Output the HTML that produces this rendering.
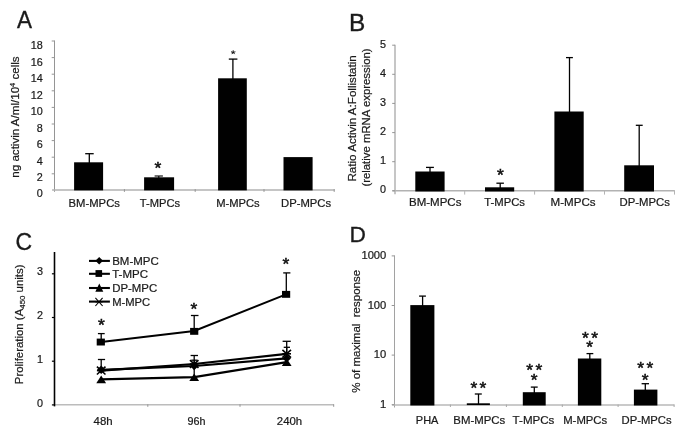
<!DOCTYPE html>
<html>
<head>
<meta charset="utf-8">
<title>Figure</title>
<style>
html,body{margin:0;padding:0;background:#fff;}
body{width:685px;height:434px;overflow:hidden;font-family:"Liberation Sans",sans-serif;}
svg{display:block;}
svg text{font-family:"Liberation Sans",sans-serif;fill:#1a1a1a;white-space:pre;}
</style>
</head>
<body>
<svg width="685" height="434" viewBox="0 0 685 434">
<rect x="0" y="0" width="685" height="434" fill="#ffffff"/>
<g opacity="0.999">
<text transform="translate(16.9,27.7) scale(0.95,1.0)" x="0" y="0" font-size="23.7" stroke="#1a1a1a" stroke-width="0.35">A</text>
<text transform="translate(349.1,30.5) scale(1.03,1.0)" x="0" y="0" font-size="23.7" stroke="#1a1a1a" stroke-width="0.35">B</text>
<text transform="translate(15.4,249.7) scale(0.97,1.0)" x="0" y="0" font-size="23.7" stroke="#1a1a1a" stroke-width="0.35">C</text>
<text transform="translate(349.4,242.2) scale(0.96,0.97)" x="0" y="0" font-size="23.7" stroke="#1a1a1a" stroke-width="0.35">D</text>
<line x1="54.5" y1="40.5" x2="54.5" y2="191.8" stroke="#959595" stroke-width="1"/>
<line x1="52.1" y1="190.0" x2="334.6" y2="190.0" stroke="#b2b2b2" stroke-width="1.4"/>
<line x1="51.7" y1="173.8" x2="54.5" y2="173.8" stroke="#959595" stroke-width="1"/>
<text x="42.7" y="180.9" font-size="10.8" text-anchor="end" stroke="#1a1a1a" stroke-width="0.22">2</text>
<line x1="51.7" y1="157.2" x2="54.5" y2="157.2" stroke="#959595" stroke-width="1"/>
<text x="42.7" y="164.5" font-size="10.8" text-anchor="end" stroke="#1a1a1a" stroke-width="0.22">4</text>
<line x1="51.7" y1="140.6" x2="54.5" y2="140.6" stroke="#959595" stroke-width="1"/>
<text x="42.7" y="148.1" font-size="10.8" text-anchor="end" stroke="#1a1a1a" stroke-width="0.22">6</text>
<line x1="51.7" y1="124.0" x2="54.5" y2="124.0" stroke="#959595" stroke-width="1"/>
<text x="42.7" y="131.7" font-size="10.8" text-anchor="end" stroke="#1a1a1a" stroke-width="0.22">8</text>
<line x1="51.7" y1="107.4" x2="54.5" y2="107.4" stroke="#959595" stroke-width="1"/>
<text x="42.7" y="115.2" font-size="10.8" text-anchor="end" stroke="#1a1a1a" stroke-width="0.22">10</text>
<line x1="51.7" y1="90.8" x2="54.5" y2="90.8" stroke="#959595" stroke-width="1"/>
<text x="42.7" y="98.7" font-size="10.8" text-anchor="end" stroke="#1a1a1a" stroke-width="0.22">12</text>
<line x1="51.7" y1="74.2" x2="54.5" y2="74.2" stroke="#959595" stroke-width="1"/>
<text x="42.7" y="82.1" font-size="10.8" text-anchor="end" stroke="#1a1a1a" stroke-width="0.22">14</text>
<line x1="51.7" y1="57.6" x2="54.5" y2="57.6" stroke="#959595" stroke-width="1"/>
<text x="42.7" y="65.6" font-size="10.8" text-anchor="end" stroke="#1a1a1a" stroke-width="0.22">16</text>
<line x1="51.7" y1="41.0" x2="54.5" y2="41.0" stroke="#959595" stroke-width="1"/>
<text x="42.7" y="49.1" font-size="10.8" text-anchor="end" stroke="#1a1a1a" stroke-width="0.22">18</text>
<line x1="124.4" y1="189.1" x2="124.4" y2="191.9" stroke="#959595" stroke-width="1"/>
<line x1="195.2" y1="189.1" x2="195.2" y2="191.9" stroke="#959595" stroke-width="1"/>
<line x1="264.0" y1="189.1" x2="264.0" y2="191.9" stroke="#959595" stroke-width="1"/>
<line x1="334.2" y1="189.1" x2="334.2" y2="191.9" stroke="#959595" stroke-width="1"/>
<rect x="74.1" y="162.3" width="29.0" height="28.1" fill="#000"/>
<rect x="144.1" y="177.3" width="30.0" height="13.1" fill="#000"/>
<rect x="218.1" y="78.3" width="28.7" height="112.1" fill="#000"/>
<rect x="283.5" y="157.1" width="29.1" height="33.3" fill="#000"/>
<line x1="89.3" y1="153.7" x2="89.3" y2="163.0" stroke="#000" stroke-width="1.3"/>
<line x1="85.2" y1="153.7" x2="93.7" y2="153.7" stroke="#000" stroke-width="1.3"/>
<line x1="158.8" y1="176.0" x2="158.8" y2="178.0" stroke="#000" stroke-width="1.1"/>
<line x1="154.6" y1="176.0" x2="162.9" y2="176.0" stroke="#000" stroke-width="1.1"/>
<line x1="232.9" y1="59.1" x2="232.9" y2="79.0" stroke="#000" stroke-width="1.3"/>
<line x1="228.8" y1="59.1" x2="237.4" y2="59.1" stroke="#000" stroke-width="1.3"/>
<text transform="translate(157.89,164.80) scale(1,0.96)" x="0" y="9.10" font-size="17.5" text-anchor="middle" stroke="#000" stroke-width="0.5">*</text>
<line x1="233.2" y1="52.4" x2="233.2" y2="50.3" stroke="#000" stroke-width="0.95"/>
<line x1="233.2" y1="52.4" x2="235.4" y2="51.8" stroke="#000" stroke-width="0.95"/>
<line x1="233.2" y1="52.4" x2="234.6" y2="54.1" stroke="#000" stroke-width="0.95"/>
<line x1="233.2" y1="52.4" x2="231.8" y2="54.1" stroke="#000" stroke-width="0.95"/>
<line x1="233.2" y1="52.4" x2="231.0" y2="51.8" stroke="#000" stroke-width="0.95"/>
<text x="42.7" y="197.3" font-size="10.8" text-anchor="end" stroke="#1a1a1a" stroke-width="0.22">0</text>
<text x="68.6" y="207.0" font-size="10.8" text-anchor="start" textLength="51.3" lengthAdjust="spacingAndGlyphs" stroke="#1a1a1a" stroke-width="0.22">BM-MPCs</text>
<text x="139.8" y="207.0" font-size="10.8" text-anchor="start" textLength="40.2" lengthAdjust="spacingAndGlyphs" stroke="#1a1a1a" stroke-width="0.22">T-MPCs</text>
<text x="216.2" y="207.0" font-size="10.8" text-anchor="start" textLength="43.5" lengthAdjust="spacingAndGlyphs" stroke="#1a1a1a" stroke-width="0.22">M-MPCs</text>
<text x="281.1" y="207.0" font-size="10.8" text-anchor="start" textLength="50.0" lengthAdjust="spacingAndGlyphs" stroke="#1a1a1a" stroke-width="0.22">DP-MPCs</text>
<text transform="translate(19.1,177.7) rotate(-90)" font-size="11.3" textLength="121.3" lengthAdjust="spacingAndGlyphs" stroke="#1a1a1a" stroke-width="0.22">ng activin A/ml/10<tspan font-size="7.2" dy="-4.0">4</tspan><tspan dy="4.0"> cells</tspan></text>
<line x1="395.0" y1="44.7" x2="395.0" y2="194.3" stroke="#a8a8a8" stroke-width="1.3"/>
<line x1="392.4" y1="190.8" x2="674.8" y2="190.8" stroke="#b2b2b2" stroke-width="1.4"/>
<line x1="392.2" y1="190.8" x2="395.0" y2="190.8" stroke="#959595" stroke-width="1"/>
<text x="385.9" y="193.1" font-size="10.8" text-anchor="end" stroke="#1a1a1a" stroke-width="0.22">0</text>
<line x1="392.2" y1="161.7" x2="395.0" y2="161.7" stroke="#959595" stroke-width="1"/>
<text x="385.9" y="164.0" font-size="10.8" text-anchor="end" stroke="#1a1a1a" stroke-width="0.22">1</text>
<line x1="392.2" y1="132.6" x2="395.0" y2="132.6" stroke="#959595" stroke-width="1"/>
<text x="385.9" y="134.9" font-size="10.8" text-anchor="end" stroke="#1a1a1a" stroke-width="0.22">2</text>
<line x1="392.2" y1="103.4" x2="395.0" y2="103.4" stroke="#959595" stroke-width="1"/>
<text x="385.9" y="105.7" font-size="10.8" text-anchor="end" stroke="#1a1a1a" stroke-width="0.22">3</text>
<line x1="392.2" y1="74.3" x2="395.0" y2="74.3" stroke="#959595" stroke-width="1"/>
<text x="385.9" y="76.6" font-size="10.8" text-anchor="end" stroke="#1a1a1a" stroke-width="0.22">4</text>
<line x1="392.2" y1="45.2" x2="395.0" y2="45.2" stroke="#959595" stroke-width="1"/>
<text x="385.9" y="47.5" font-size="10.8" text-anchor="end" stroke="#1a1a1a" stroke-width="0.22">5</text>
<line x1="464.7" y1="190.5" x2="464.7" y2="194.6" stroke="#b4b4b4" stroke-width="1"/>
<line x1="534.6" y1="190.5" x2="534.6" y2="194.6" stroke="#b4b4b4" stroke-width="1"/>
<line x1="604.5" y1="190.5" x2="604.5" y2="194.6" stroke="#b4b4b4" stroke-width="1"/>
<line x1="674.5" y1="190.5" x2="674.5" y2="194.6" stroke="#b4b4b4" stroke-width="1"/>
<rect x="415.3" y="171.5" width="29.3" height="20.0" fill="#000"/>
<rect x="485.0" y="187.3" width="29.2" height="4.2" fill="#000"/>
<rect x="554.4" y="111.5" width="29.3" height="80.0" fill="#000"/>
<rect x="624.2" y="165.3" width="29.8" height="26.2" fill="#000"/>
<line x1="430.0" y1="167.4" x2="430.0" y2="172.0" stroke="#000" stroke-width="1.3"/>
<line x1="426.0" y1="167.4" x2="433.9" y2="167.4" stroke="#000" stroke-width="1.3"/>
<line x1="500.2" y1="183.2" x2="500.2" y2="188.0" stroke="#000" stroke-width="1.3"/>
<line x1="496.4" y1="183.2" x2="503.9" y2="183.2" stroke="#000" stroke-width="1.3"/>
<line x1="569.5" y1="57.6" x2="569.5" y2="112.0" stroke="#000" stroke-width="1.3"/>
<line x1="566.0" y1="57.6" x2="572.9" y2="57.6" stroke="#000" stroke-width="1.3"/>
<line x1="639.2" y1="125.3" x2="639.2" y2="166.0" stroke="#000" stroke-width="1.3"/>
<line x1="635.8" y1="125.3" x2="642.7" y2="125.3" stroke="#000" stroke-width="1.3"/>
<text transform="translate(500.29,172.80) scale(1,0.9)" x="0" y="9.10" font-size="17.5" text-anchor="middle" stroke="#000" stroke-width="0.5">*</text>
<text x="409.0" y="206.3" font-size="10.8" text-anchor="start" textLength="52.4" lengthAdjust="spacingAndGlyphs" stroke="#1a1a1a" stroke-width="0.22">BM-MPCs</text>
<text x="484.2" y="206.3" font-size="10.8" text-anchor="start" textLength="40.8" lengthAdjust="spacingAndGlyphs" stroke="#1a1a1a" stroke-width="0.22">T-MPCs</text>
<text x="550.6" y="206.3" font-size="10.8" text-anchor="start" textLength="45.0" lengthAdjust="spacingAndGlyphs" stroke="#1a1a1a" stroke-width="0.22">M-MPCs</text>
<text x="619.5" y="206.3" font-size="10.8" text-anchor="start" textLength="50.4" lengthAdjust="spacingAndGlyphs" stroke="#1a1a1a" stroke-width="0.22">DP-MPCs</text>
<text transform="translate(355.9,181.5) rotate(-90)" font-size="11.2" textLength="126.3" lengthAdjust="spacingAndGlyphs" stroke="#1a1a1a" stroke-width="0.22">Ratio Activin A:Follistatin</text>
<text transform="translate(369.6,186.6) rotate(-90)" font-size="11.2" textLength="138.2" lengthAdjust="spacingAndGlyphs" stroke="#1a1a1a" stroke-width="0.22">(relative mRNA expression)</text>
<line x1="54.5" y1="404.7" x2="333.9" y2="404.7" stroke="#bcbcbc" stroke-width="1.4"/>
<line x1="54.5" y1="252.0" x2="54.5" y2="406.4" stroke="#000" stroke-width="1.6"/>
<line x1="51.9" y1="404.9" x2="54.5" y2="404.9" stroke="#000" stroke-width="1.2"/>
<text x="43.0" y="406.6" font-size="10.8" text-anchor="end" stroke="#1a1a1a" stroke-width="0.22">0</text>
<line x1="51.9" y1="361.2" x2="54.5" y2="361.2" stroke="#000" stroke-width="1.2"/>
<text x="43.0" y="362.9" font-size="10.8" text-anchor="end" stroke="#1a1a1a" stroke-width="0.22">1</text>
<line x1="51.9" y1="317.5" x2="54.5" y2="317.5" stroke="#000" stroke-width="1.2"/>
<text x="43.0" y="318.7" font-size="10.8" text-anchor="end" stroke="#1a1a1a" stroke-width="0.22">2</text>
<line x1="51.9" y1="273.8" x2="54.5" y2="273.8" stroke="#000" stroke-width="1.2"/>
<text x="43.0" y="275.0" font-size="10.8" text-anchor="end" stroke="#1a1a1a" stroke-width="0.22">3</text>
<line x1="147.8" y1="404.3" x2="147.8" y2="406.8" stroke="#959595" stroke-width="1"/>
<line x1="240.0" y1="404.3" x2="240.0" y2="406.8" stroke="#959595" stroke-width="1"/>
<line x1="333.7" y1="404.3" x2="333.7" y2="406.8" stroke="#959595" stroke-width="1"/>
<text x="93.6" y="424.8" font-size="10.8" text-anchor="start" textLength="19.1" lengthAdjust="spacingAndGlyphs" stroke="#1a1a1a" stroke-width="0.22">48h</text>
<text x="187.5" y="424.8" font-size="10.8" text-anchor="start" textLength="18.0" lengthAdjust="spacingAndGlyphs" stroke="#1a1a1a" stroke-width="0.22">96h</text>
<text x="276.8" y="424.8" font-size="10.8" text-anchor="start" textLength="25.4" lengthAdjust="spacingAndGlyphs" stroke="#1a1a1a" stroke-width="0.22">240h</text>
<text transform="translate(23.2,384.2) rotate(-90)" font-size="11.3" textLength="119.7" lengthAdjust="spacingAndGlyphs" stroke="#1a1a1a" stroke-width="0.22">Proliferation (A<tspan font-size="7.8" dy="2.2">450</tspan><tspan dy="-2.2"> units)</tspan></text>
<line x1="101.2" y1="333.6" x2="101.2" y2="341.9" stroke="#000" stroke-width="1.3"/>
<line x1="97.9" y1="333.6" x2="104.7" y2="333.6" stroke="#000" stroke-width="1.3"/>
<line x1="194.2" y1="315.5" x2="194.2" y2="331.0" stroke="#000" stroke-width="1.3"/>
<line x1="190.9" y1="315.5" x2="198.5" y2="315.5" stroke="#000" stroke-width="1.3"/>
<line x1="286.3" y1="272.9" x2="286.3" y2="294.1" stroke="#000" stroke-width="1.3"/>
<line x1="283.2" y1="272.9" x2="290.4" y2="272.9" stroke="#000" stroke-width="1.3"/>
<line x1="101.2" y1="359.5" x2="101.2" y2="369.8" stroke="#000" stroke-width="1.3"/>
<line x1="97.9" y1="359.5" x2="105.1" y2="359.5" stroke="#000" stroke-width="1.3"/>
<line x1="194.2" y1="355.5" x2="194.2" y2="366.0" stroke="#000" stroke-width="1.3"/>
<line x1="190.6" y1="355.5" x2="198.0" y2="355.5" stroke="#000" stroke-width="1.3"/>
<line x1="194.2" y1="360.2" x2="194.2" y2="366.0" stroke="#000" stroke-width="1.3"/>
<line x1="191.2" y1="360.2" x2="197.4" y2="360.2" stroke="#000" stroke-width="1.3"/>
<line x1="286.7" y1="341.3" x2="286.7" y2="358.4" stroke="#000" stroke-width="1.3"/>
<line x1="282.6" y1="341.3" x2="290.8" y2="341.3" stroke="#000" stroke-width="1.3"/>
<line x1="286.7" y1="347.3" x2="286.7" y2="358.4" stroke="#000" stroke-width="1.3"/>
<line x1="283.7" y1="347.3" x2="290.0" y2="347.3" stroke="#000" stroke-width="1.3"/>
<line x1="194.2" y1="366.0" x2="194.2" y2="377.2" stroke="#000" stroke-width="1.3"/>
<line x1="192.0" y1="366.0" x2="196.4" y2="366.0" stroke="#000" stroke-width="1.3"/>
<polyline points="101.2,341.9 194.2,331.0 286.7,294.1" fill="none" stroke="#000" stroke-width="2.0"/>
<polyline points="101.2,369.8 194.2,366.0 286.7,358.4" fill="none" stroke="#000" stroke-width="2.2"/>
<polyline points="101.2,370.6 194.2,364.0 286.7,353.8" fill="none" stroke="#000" stroke-width="2.2"/>
<polyline points="101.2,379.4 194.2,377.2 286.7,362.2" fill="none" stroke="#000" stroke-width="2.2"/>
<rect x="96.7" y="338.6" width="8.2" height="6.9" fill="#000"/>
<rect x="190.1" y="327.9" width="8.2" height="6.9" fill="#000"/>
<rect x="282.0" y="290.9" width="8.2" height="6.9" fill="#000"/>
<path d="M97.0,369.8 L101.2,365.6 L105.4,369.8 L101.2,374.0Z" fill="#000"/>
<path d="M190.0,366.0 L194.2,361.8 L198.4,366.0 L194.2,370.2Z" fill="#000"/>
<path d="M282.5,358.4 L286.7,354.2 L290.9,358.4 L286.7,362.6Z" fill="#000"/>
<line x1="96.9" y1="366.7" x2="105.5" y2="374.5" stroke="#000" stroke-width="1.6"/>
<line x1="96.9" y1="374.5" x2="105.5" y2="366.7" stroke="#000" stroke-width="1.6"/>
<line x1="96.9" y1="370.6" x2="105.5" y2="370.6" stroke="#000" stroke-width="1.6"/>
<line x1="189.9" y1="360.1" x2="198.5" y2="367.9" stroke="#000" stroke-width="1.6"/>
<line x1="189.9" y1="367.9" x2="198.5" y2="360.1" stroke="#000" stroke-width="1.6"/>
<line x1="189.9" y1="364.0" x2="198.5" y2="364.0" stroke="#000" stroke-width="1.6"/>
<line x1="282.4" y1="349.9" x2="291.0" y2="357.7" stroke="#000" stroke-width="1.6"/>
<line x1="282.4" y1="357.7" x2="291.0" y2="349.9" stroke="#000" stroke-width="1.6"/>
<line x1="282.4" y1="353.8" x2="291.0" y2="353.8" stroke="#000" stroke-width="1.6"/>
<path d="M96.3,383.2 L101.2,375.6 L106.1,383.2Z" fill="#000"/>
<path d="M189.3,381.0 L194.2,373.4 L199.1,381.0Z" fill="#000"/>
<path d="M281.8,366.0 L286.7,358.4 L291.6,366.0Z" fill="#000"/>
<text transform="translate(101.49,322.80) scale(1,0.9)" x="0" y="9.10" font-size="17.5" text-anchor="middle" stroke="#000" stroke-width="0.5">*</text>
<text transform="translate(193.99,307.10) scale(1,0.9)" x="0" y="9.10" font-size="17.5" text-anchor="middle" stroke="#000" stroke-width="0.5">*</text>
<text transform="translate(285.99,261.50) scale(1,0.9)" x="0" y="9.10" font-size="17.5" text-anchor="middle" stroke="#000" stroke-width="0.5">*</text>
<line x1="89.0" y1="260.9" x2="109.9" y2="260.9" stroke="#000" stroke-width="2.1"/>
<line x1="89.0" y1="273.8" x2="109.9" y2="273.8" stroke="#000" stroke-width="2.1"/>
<line x1="89.0" y1="288.0" x2="109.9" y2="288.0" stroke="#000" stroke-width="2.1"/>
<line x1="89.0" y1="301.6" x2="109.9" y2="301.6" stroke="#000" stroke-width="2.1"/>
<path d="M95.4,260.7 L99.2,256.9 L103.0,260.7 L99.2,264.5Z" fill="#000"/>
<rect x="95.5" y="270.1" width="6.6" height="6.8" fill="#000"/>
<path d="M95.3,291.7 L99.3,283.5 L103.3,291.7Z" fill="#000"/>
<line x1="95.4" y1="297.8" x2="102.6" y2="306.0" stroke="#000" stroke-width="1.1"/>
<line x1="95.4" y1="306.0" x2="102.6" y2="297.8" stroke="#000" stroke-width="1.1"/>
<line x1="95.4" y1="301.9" x2="102.6" y2="301.9" stroke="#000" stroke-width="1.1"/>
<text x="112.2" y="264.8" font-size="10.8" text-anchor="start" textLength="46.5" lengthAdjust="spacingAndGlyphs" stroke="#1a1a1a" stroke-width="0.22">BM-MPC</text>
<text x="112.2" y="277.7" font-size="10.8" text-anchor="start" textLength="35.8" lengthAdjust="spacingAndGlyphs" stroke="#1a1a1a" stroke-width="0.22">T-MPC</text>
<text x="112.2" y="291.9" font-size="10.8" text-anchor="start" textLength="45.0" lengthAdjust="spacingAndGlyphs" stroke="#1a1a1a" stroke-width="0.22">DP-MPC</text>
<text x="112.2" y="305.5" font-size="10.8" text-anchor="start" textLength="38.0" lengthAdjust="spacingAndGlyphs" stroke="#1a1a1a" stroke-width="0.22">M-MPC</text>
<line x1="394.5" y1="255.4" x2="394.5" y2="407.5" stroke="#a2a2a2" stroke-width="1"/>
<line x1="392.1" y1="404.9" x2="674.3" y2="404.9" stroke="#b8b8b8" stroke-width="1.5"/>
<line x1="391.7" y1="404.7" x2="394.5" y2="404.7" stroke="#959595" stroke-width="1"/>
<text x="386.3" y="407.7" font-size="11.2" text-anchor="end" stroke="#1a1a1a" stroke-width="0.22">1</text>
<line x1="391.7" y1="355.1" x2="394.5" y2="355.1" stroke="#959595" stroke-width="1"/>
<text x="386.3" y="358.1" font-size="11.2" text-anchor="end" stroke="#1a1a1a" stroke-width="0.22">10</text>
<line x1="391.7" y1="305.5" x2="394.5" y2="305.5" stroke="#959595" stroke-width="1"/>
<text x="386.3" y="308.5" font-size="11.2" text-anchor="end" stroke="#1a1a1a" stroke-width="0.22">100</text>
<line x1="391.7" y1="255.9" x2="394.5" y2="255.9" stroke="#959595" stroke-width="1"/>
<text x="386.3" y="258.5" font-size="11.2" text-anchor="end" stroke="#1a1a1a" stroke-width="0.22">1000</text>
<line x1="450.4" y1="404.5" x2="450.4" y2="407.0" stroke="#a8a8a8" stroke-width="1"/>
<line x1="506.4" y1="404.5" x2="506.4" y2="407.0" stroke="#a8a8a8" stroke-width="1"/>
<line x1="562.3" y1="404.5" x2="562.3" y2="407.0" stroke="#a8a8a8" stroke-width="1"/>
<line x1="618.1" y1="404.5" x2="618.1" y2="407.0" stroke="#a8a8a8" stroke-width="1"/>
<line x1="674.1" y1="404.5" x2="674.1" y2="407.0" stroke="#a8a8a8" stroke-width="1"/>
<rect x="410.3" y="305.1" width="24.1" height="100.4" fill="#000"/>
<rect x="466.8" y="403.3" width="23.1" height="1.8" fill="#000"/>
<rect x="522.8" y="392.2" width="22.9" height="13.3" fill="#000"/>
<rect x="577.9" y="358.5" width="23.4" height="47.0" fill="#000"/>
<rect x="633.9" y="389.6" width="23.5" height="15.9" fill="#000"/>
<line x1="422.6" y1="296.1" x2="422.6" y2="306.0" stroke="#000" stroke-width="1.3"/>
<line x1="419.1" y1="296.1" x2="425.9" y2="296.1" stroke="#000" stroke-width="1.3"/>
<line x1="478.5" y1="394.0" x2="478.5" y2="404.0" stroke="#000" stroke-width="1.3"/>
<line x1="474.8" y1="394.0" x2="481.8" y2="394.0" stroke="#000" stroke-width="1.3"/>
<line x1="534.3" y1="387.1" x2="534.3" y2="393.0" stroke="#000" stroke-width="1.3"/>
<line x1="530.8" y1="387.1" x2="537.7" y2="387.1" stroke="#000" stroke-width="1.3"/>
<line x1="589.8" y1="353.6" x2="589.8" y2="359.0" stroke="#000" stroke-width="1.3"/>
<line x1="586.5" y1="353.6" x2="593.3" y2="353.6" stroke="#000" stroke-width="1.3"/>
<line x1="645.3" y1="383.7" x2="645.3" y2="390.0" stroke="#000" stroke-width="1.3"/>
<line x1="641.6" y1="383.7" x2="649.0" y2="383.7" stroke="#000" stroke-width="1.3"/>
<text transform="translate(473.79,385.80) scale(1,0.9)" x="0" y="9.10" font-size="17.5" text-anchor="middle" stroke="#000" stroke-width="0.5">*</text>
<text transform="translate(482.99,385.80) scale(1,0.9)" x="0" y="9.10" font-size="17.5" text-anchor="middle" stroke="#000" stroke-width="0.5">*</text>
<text transform="translate(529.69,368.20) scale(1,0.9)" x="0" y="9.10" font-size="17.5" text-anchor="middle" stroke="#000" stroke-width="0.5">*</text>
<text transform="translate(538.89,368.20) scale(1,0.9)" x="0" y="9.10" font-size="17.5" text-anchor="middle" stroke="#000" stroke-width="0.5">*</text>
<text transform="translate(534.09,378.20) scale(1,0.9)" x="0" y="9.10" font-size="17.5" text-anchor="middle" stroke="#000" stroke-width="0.5">*</text>
<text transform="translate(585.39,335.50) scale(1,0.9)" x="0" y="9.10" font-size="17.5" text-anchor="middle" stroke="#000" stroke-width="0.5">*</text>
<text transform="translate(594.59,335.50) scale(1,0.9)" x="0" y="9.10" font-size="17.5" text-anchor="middle" stroke="#000" stroke-width="0.5">*</text>
<text transform="translate(589.59,345.20) scale(1,0.9)" x="0" y="9.10" font-size="17.5" text-anchor="middle" stroke="#000" stroke-width="0.5">*</text>
<text transform="translate(640.59,366.10) scale(1,0.9)" x="0" y="9.10" font-size="17.5" text-anchor="middle" stroke="#000" stroke-width="0.5">*</text>
<text transform="translate(649.79,366.10) scale(1,0.9)" x="0" y="9.10" font-size="17.5" text-anchor="middle" stroke="#000" stroke-width="0.5">*</text>
<text transform="translate(645.09,377.40) scale(1,0.9)" x="0" y="9.10" font-size="17.5" text-anchor="middle" stroke="#000" stroke-width="0.5">*</text>
<text x="415.8" y="424.4" font-size="10.8" text-anchor="start" textLength="22.6" lengthAdjust="spacingAndGlyphs" stroke="#1a1a1a" stroke-width="0.22">PHA</text>
<text x="453.3" y="424.4" font-size="10.8" text-anchor="start" textLength="51.9" lengthAdjust="spacingAndGlyphs" stroke="#1a1a1a" stroke-width="0.22">BM-MPCs</text>
<text x="512.6" y="424.4" font-size="10.8" text-anchor="start" textLength="41.8" lengthAdjust="spacingAndGlyphs" stroke="#1a1a1a" stroke-width="0.22">T-MPCs</text>
<text x="563.2" y="424.4" font-size="10.8" text-anchor="start" textLength="44.0" lengthAdjust="spacingAndGlyphs" stroke="#1a1a1a" stroke-width="0.22">M-MPCs</text>
<text x="621.6" y="424.4" font-size="10.8" text-anchor="start" textLength="50.0" lengthAdjust="spacingAndGlyphs" stroke="#1a1a1a" stroke-width="0.22">DP-MPCs</text>
<text transform="translate(359.6,392.8) rotate(-90)" font-size="11.2" textLength="123.0" lengthAdjust="spacingAndGlyphs" stroke="#1a1a1a" stroke-width="0.22">% of maximal  response</text>
</g>
</svg>
</body>
</html>
